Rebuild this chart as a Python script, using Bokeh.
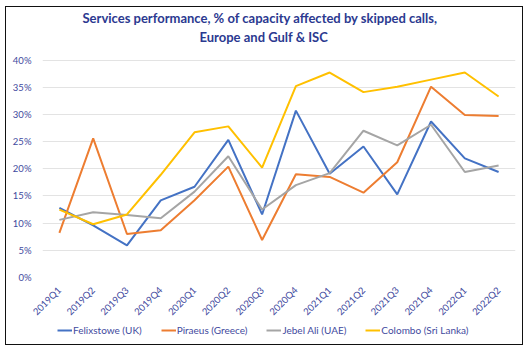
from bokeh.plotting import figure
from bokeh.layouts import column
from bokeh.models import Title, Legend, LegendItem, NumeralTickFormatter, FactorRange
from bokeh.embed import file_html
from bokeh.resources import INLINE

quarters = ["2019Q1", "2019Q2", "2019Q3", "2019Q4", "2020Q1", "2020Q2", "2020Q3",
            "2020Q4", "2021Q1", "2021Q2", "2021Q3", "2021Q4", "2022Q1", "2022Q2"]
felixstowe = [12.8, 9.6, 5.9, 14.2, 16.7, 25.3, 11.6, 30.7, 19.1, 24.1, 15.3, 28.7, 21.9, 19.4]
piraeus = [8.2, 25.6, 8.0, 8.7, 14.2, 20.4, 6.9, 19.0, 18.5, 15.6, 21.2, 35.1, 29.9, 29.7]
jebel_ali = [10.6, 12.0, 11.5, 10.9, 15.8, 22.3, 12.5, 17.0, 19.2, 27.0, 24.3, 28.1, 19.4, 20.6]
colombo = [12.5, 9.8, 11.6, 18.9, 26.7, 27.8, 20.2, 35.2, 37.7, 34.1, 35.1, 36.4, 37.7, 33.3]

series = [
    ("Felixstowe (UK)", felixstowe, "#4472C4"),
    ("Piraeus (Greece)", piraeus, "#ED7D31"),
    ("Jebel Ali (UAE)", jebel_ali, "#A5A5A5"),
    ("Colombo (Sri Lanka)", colombo, "#FFC000"),
]

FONT = "Lato"
TXT = "#3F4A9E"
TITLE_C = "#2B3990"

# ---- main chart ----
p = figure(width=516, height=318, x_range=FactorRange(*quarters), y_range=(0, 0.401),
           output_backend="svg", toolbar_location=None,
           min_border_left=36, min_border_right=7, min_border_top=52, min_border_bottom=48)

# spacer between frame and the title lines
p.add_layout(Title(text=" ", text_font_size="8px", standoff=3, text_font=FONT), "above")
p.add_layout(Title(text="Europe and Gulf & ISC", align="left", offset=157,
                   vertical_align="bottom", standoff=0, text_font=FONT,
                   text_font_size="13px", text_color=TITLE_C, text_font_style="bold"), "above")
p.add_layout(Title(text="Services performance, % of capacity affected by skipped calls,",
                   align="left", offset=40, vertical_align="bottom", standoff=1,
                   text_font=FONT, text_font_size="13px",
                   text_color=TITLE_C, text_font_style="bold"), "above")

for name, vals, col in series:
    p.line(quarters, [v / 100 for v in vals], line_color=col, line_width=2)

p.yaxis.ticker = [0, 0.05, 0.10, 0.15, 0.20, 0.25, 0.30, 0.35, 0.40]
p.yaxis.formatter = NumeralTickFormatter(format="0%")
for ax in (p.xaxis, p.yaxis):
    ax.axis_line_color = None
    ax.major_tick_line_color = None
    ax.minor_tick_line_color = None
    ax.major_label_text_font = FONT
    ax.major_label_text_font_size = "9.5px"
    ax.major_label_text_color = TXT
p.xaxis.major_label_orientation = 0.785
p.xgrid.grid_line_color = None
p.ygrid.grid_line_color = "#E3E3E3"
p.ygrid.grid_line_width = 1
p.outline_line_color = None

# ---- legend strip (series drawn off-view; only their legend keys show) ----
lg = figure(width=516, height=19, x_range=(0, 1), y_range=(0, 1),
            output_backend="svg", toolbar_location=None,
            x_axis_type=None, y_axis_type=None,
            min_border_left=0, min_border_right=0, min_border_top=0, min_border_bottom=8)
lg.grid.visible = False
lg.outline_line_color = None
items = []
for name, vals, col in series:
    r = lg.line(list(range(len(vals))), vals, line_color=col, line_width=2)
    items.append(LegendItem(label=name, renderers=[r]))
legend = Legend(items=items, orientation="horizontal", location=(15, 0),
                label_text_font=FONT, label_text_font_size="10px", label_text_color=TXT,
                glyph_width=15, glyph_height=10, label_height=10, label_standoff=1,
                spacing=19, border_line_color=None, background_fill_alpha=0,
                padding=0, margin=0)
lg.add_layout(legend)

layout = column(p, lg, spacing=0,
                styles={"margin-left": "5px", "margin-top": "6px",
                        "border": "1.5px solid #111111"})

open("out.html", "w").write(file_html(layout, INLINE))
